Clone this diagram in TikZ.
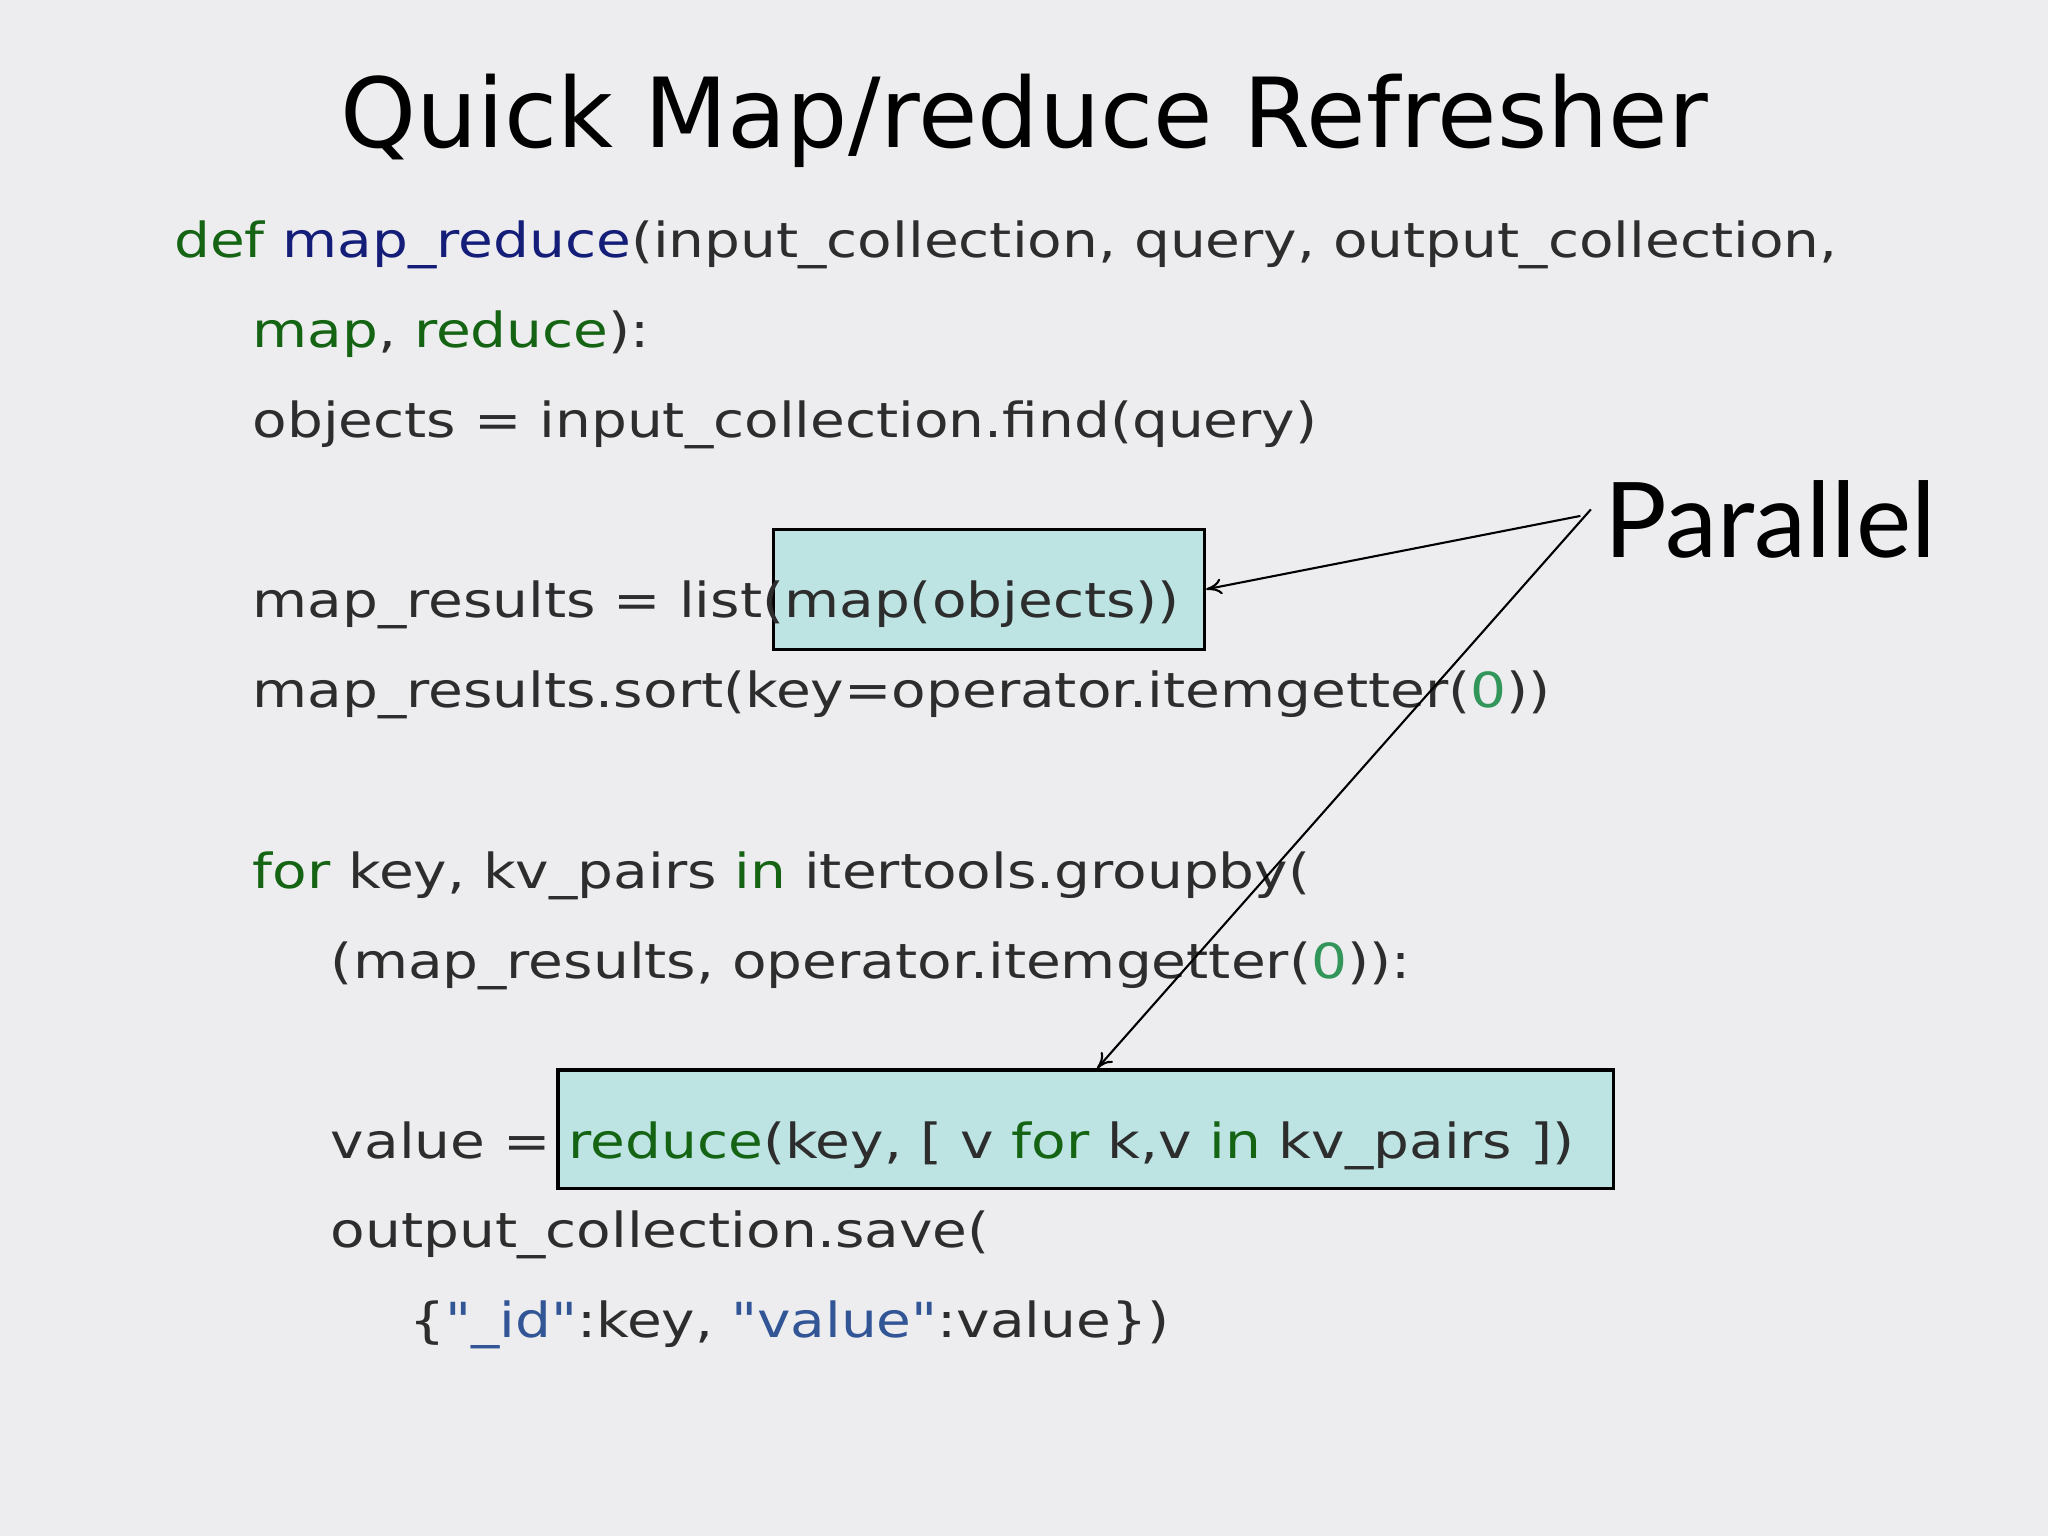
\documentclass[tikz,border=0pt]{standalone}
\usetikzlibrary{arrows.meta}
\usepackage{fontspec}
\setmainfont{DejaVu Sans}
\newfontfamily\codefont[FakeStretch=1.17]{DejaVu Sans}
\newfontfamily\parfont{Lato}
\definecolor{bg}{RGB}{237,237,239}
\definecolor{kw}{RGB}{20,100,20}
\definecolor{fn}{RGB}{20,30,120}
\definecolor{txt}{RGB}{45,45,45}
\definecolor{num}{RGB}{50,150,90}
\definecolor{str}{RGB}{50,85,150}
\definecolor{boxfill}{RGB}{189,227,227}
\newcommand{\K}[1]{\textcolor{kw}{#1}}
\newcommand{\Q}{\char"22\relax}
\begin{document}
\begin{tikzpicture}[x=0.5pt,y=-0.5pt,
  code/.style={anchor=base west,inner sep=0pt,text=txt,font=\codefont\fontsize{18.5}{22}\selectfont},
  hl/.style={draw=black,line width=1.2pt,fill=boxfill},
  arr/.style={-{To[length=6pt,width=6pt]},line width=0.8pt}]
\fill[bg] (0,0) rectangle (1568,1176);
\useasboundingbox (0,0) rectangle (1568,1176);
\node[hl,minimum width=165pt,minimum height=46pt,anchor=north west,inner sep=0pt] (mb) at (591,404) {};
\node[hl,minimum width=404pt,minimum height=45.5pt,anchor=north west,inner sep=0pt] (rb) at (426,818) {};
\node[anchor=base,inner sep=0pt,font=\fontsize{37}{44}\selectfont] (title) at (784,113) {Quick Map/reduce Refresher};
\node[code] (l1) at (133,197) {\K{def} \textcolor{fn}{map\_reduce}(input\_collection, query, output\_collection,};
\node[code] (l2) at (193,266) {\K{map}, \K{reduce}):};
\node[code] (l3) at (193,335) {objects = input\_collection.find(query)};
\node[code] (l4) at (193,473) {map\_results = list(map(objects))};
\node[code] (l5) at (193,542) {map\_results.sort(key=operator.itemgetter(\textcolor{num}{0}))};
\node[code] (l6) at (193,680) {\K{for} key, kv\_pairs \K{in} itertools.groupby(};
\node[code] (l7) at (253,749) {(map\_results, operator.itemgetter(\textcolor{num}{0})):};
\node[code] (l8) at (253,887) {value = \K{reduce}(key, [ v \K{for} k,v \K{in} kv\_pairs ])};
\node[code] (l9) at (253,955) {output\_collection.save(};
\node[code] (l10) at (313,1024) {\{\textcolor{str}{\Q\_id\Q}:key, \textcolor{str}{\Q value\Q}:value\})};
\node[anchor=base west,inner sep=0pt,font=\parfont\fontsize{40}{48}\selectfont] (par) at (1228,427) {Parallel};
\coordinate (s1) at (1210,395);
\coordinate (s2) at (1218,390);
\draw[arr] (s1) -- (mb.east);
\draw[arr] (s2) -- (840,818);
\end{tikzpicture}
\end{document}
